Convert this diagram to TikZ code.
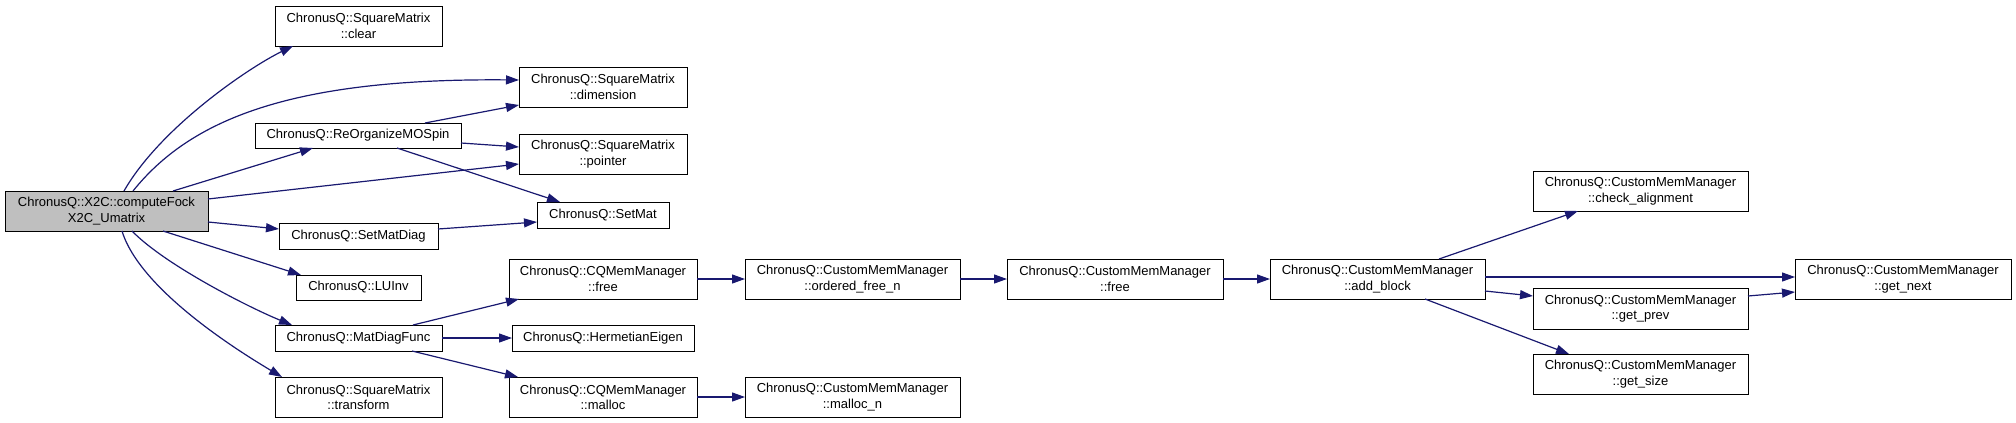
\documentclass[tikz,border=0pt]{standalone}
\usepackage{fontspec}
\setmainfont{Liberation Sans}
\usetikzlibrary{arrows.meta,calc}
\definecolor{edgeblue}{HTML}{191970}
\definecolor{maingray}{HTML}{BFBFBF}
\begin{document}
\begin{tikzpicture}[x=1pt,y=-1pt,
  fn/.style={draw=black,line width=1pt,fill=white,anchor=north west,inner sep=0pt,outer sep=0pt,align=center,font=\fontsize{13}{15.3}\selectfont},
  call/.style={draw=edgeblue,line width=1.2pt,-{Triangle[length=13pt,width=9pt]}}]
\useasboundingbox (0,0) rectangle (2016,423);
% nodes
\node[fn,fill=maingray,minimum width=203pt,minimum height=40pt] (main) at (5,191) {ChronusQ::X2C::computeFock\\X2C\_Umatrix};
\node[fn,minimum width=167pt,minimum height=40pt] (clear) at (275,6) {ChronusQ::SquareMatrix\\::clear};
\node[fn,minimum width=206pt,minimum height=25pt] (reorg) at (255,123) {ChronusQ::ReOrganizeMOSpin};
\node[fn,minimum width=159pt,minimum height=26pt] (setmatdiag) at (279,223) {ChronusQ::SetMatDiag};
\node[fn,minimum width=125pt,minimum height=25pt] (luinv) at (296,275) {ChronusQ::LUInv};
\node[fn,minimum width=167pt,minimum height=26pt] (matdiag) at (275,325) {ChronusQ::MatDiagFunc};
\node[fn,minimum width=167pt,minimum height=40pt] (transform) at (275,377) {ChronusQ::SquareMatrix\\::transform};
\node[fn,minimum width=168pt,minimum height=40pt] (dimension) at (519,67) {ChronusQ::SquareMatrix\\::dimension};
\node[fn,minimum width=168pt,minimum height=40pt] (pointer) at (519,134) {ChronusQ::SquareMatrix\\::pointer};
\node[fn,minimum width=132pt,minimum height=26pt] (setmat) at (537,202) {ChronusQ::SetMat};
\node[fn,minimum width=188pt,minimum height=40pt] (cqfree) at (509,259) {ChronusQ::CQMemManager\\::free};
\node[fn,minimum width=182pt,minimum height=26pt] (herm) at (512,325) {ChronusQ::HermetianEigen};
\node[fn,minimum width=188pt,minimum height=40pt] (cqmalloc) at (509,377) {ChronusQ::CQMemManager\\::malloc};
\node[fn,minimum width=215pt,minimum height=40pt] (ofree) at (745,259) {ChronusQ::CustomMemManager\\::ordered\_free\_n};
\node[fn,minimum width=215pt,minimum height=40pt] (mallocn) at (745,377) {ChronusQ::CustomMemManager\\::malloc\_n};
\node[fn,minimum width=216pt,minimum height=40pt] (cfree) at (1007,259) {ChronusQ::CustomMemManager\\::free};
\node[fn,minimum width=215pt,minimum height=40pt] (addblock) at (1270,259) {ChronusQ::CustomMemManager\\::add\_block};
\node[fn,minimum width=215pt,minimum height=40pt] (checkal) at (1533,171) {ChronusQ::CustomMemManager\\::check\_alignment};
\node[fn,minimum width=215pt,minimum height=41pt] (getprev) at (1533,288) {ChronusQ::CustomMemManager\\::get\_prev};
\node[fn,minimum width=215pt,minimum height=40pt] (getsize) at (1533,354) {ChronusQ::CustomMemManager\\::get\_size};
\node[fn,minimum width=216pt,minimum height=40pt] (getnext) at (1795,259) {ChronusQ::CustomMemManager\\::get\_next};
% edges from main
\draw[call] ($(main.north west)+(119,0)$) .. controls +(36,-63) and +(-45,22) .. ($(clear.north west)+(18,40)$);
\draw[call] ($(main.north west)+(128,0)$) .. controls +(57,-71) and +(-229,-2) .. ($(dimension.north west)+(0,13)$);
\draw[call] ($(main.north west)+(168,0)$) -- ($(reorg.north west)+(58,25)$);
\draw[call] ($(main.north west)+(203,8)$) -- ($(pointer.north west)+(0,30)$);
\draw[call] ($(main.north west)+(203,31)$) -- ($(setmatdiag.north west)+(0,6)$);
\draw[call] ($(main.north west)+(158,40)$) -- ($(luinv.north west)+(5,0)$);
\draw[call] ($(main.north west)+(127,40)$) .. controls +(33,34) and +(-42,-17) .. ($(matdiag.north west)+(17,0)$);
\draw[call] ($(main.north west)+(117,40)$) .. controls +(18,59) and +(-42,-25) .. ($(transform.north west)+(7,0)$);
% reorg
\draw[call] ($(reorg.north west)+(170,0)$) -- ($(dimension.north west)+(0,38)$);
\draw[call] ($(reorg.north west)+(206,20)$) -- ($(pointer.north west)+(0,13)$);
\draw[call] ($(reorg.north west)+(142,25)$) -- ($(setmat.north west)+(23,0)$);
% setmatdiag
\draw[call] ($(setmatdiag.north west)+(159,6)$) -- ($(setmat.north west)+(0,20)$);
% matdiag
\draw[call] ($(matdiag.north west)+(138,0)$) -- ($(cqfree.north west)+(10,40)$);
\draw[call] (matdiag.east) -- (herm.west);
\draw[call] ($(matdiag.north west)+(137,26)$) -- ($(cqmalloc.north west)+(9,0)$);
% chains
\draw[call] (cqfree.east) -- (ofree.west);
\draw[call] (cqmalloc.east) -- (mallocn.west);
\draw[call] (ofree.east) -- (cfree.west);
\draw[call] (cfree.east) -- (addblock.west);
% add_block
\draw[call] ($(addblock.north west)+(169,0)$) -- ($(checkal.north west)+(45,40)$);
\draw[call] ($(addblock.north west)+(215,18)$) -- ($(getnext.north west)+(0,18)$);
\draw[call] ($(addblock.north west)+(215,32)$) -- ($(getprev.north west)+(0,8)$);
\draw[call] ($(addblock.north west)+(155,40)$) -- ($(getsize.north west)+(36,0)$);
\draw[call] ($(getprev.north west)+(215,8)$) -- ($(getnext.north west)+(0,33)$);
\end{tikzpicture}
\end{document}
